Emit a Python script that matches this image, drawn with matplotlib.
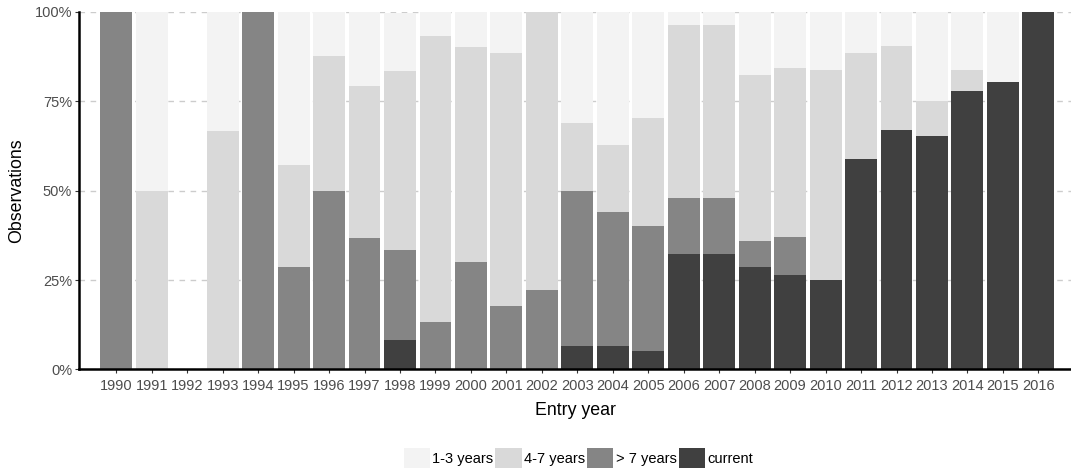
import numpy as np
import matplotlib.pyplot as plt
from matplotlib.patches import Patch
from matplotlib.ticker import PercentFormatter

plt.rcParams['font.family'] = ['Liberation Sans', 'DejaVu Sans']

years = [str(y) for y in range(1990, 2017)]

# share of observations per entry year (percent), stacked bottom to top
current = [0, 0, 0, 0, 0, 0, 0, 0, 8.3, 0, 0, 0, 0, 6.5, 6.5, 5.2, 32.2, 32.2,
           28.7, 26.3, 25.0, 58.9, 66.8, 65.2, 77.8, 80.3, 100]
over7 = [100, 0, 0, 0, 100, 28.6, 50, 36.8, 25.0, 13.3, 30, 17.8, 22.2, 43.5,
         37.4, 34.9, 15.7, 15.7, 7.3, 10.6, 0, 0, 0, 0, 0, 0, 0]
y4_7 = [0, 50, 0, 66.7, 0, 28.6, 37.5, 42.3, 50.0, 80.0, 60, 70.7, 77.8, 18.9,
        18.8, 30.2, 48.5, 48.5, 46.2, 47.4, 58.6, 29.6, 23.7, 9.8, 5.8, 0, 0]
y1_3 = [0, 50, 0, 33.3, 0, 42.8, 12.5, 20.9, 16.4, 6.7, 10, 11.5, 0, 31.1,
        37.3, 29.7, 3.6, 3.6, 17.8, 15.7, 16.4, 11.5, 9.5, 25.0, 16.4, 19.7, 0]

series = [("current", current, "#404040"),
          ("> 7 years", over7, "#858585"),
          ("4-7 years", y4_7, "#d9d9d9"),
          ("1-3 years", y1_3, "#f3f3f3")]

fig = plt.figure(figsize=(10.71, 4.72), dpi=100)
ax = fig.add_axes([0.0738, 0.2172, 1 - 0.0738, 0.758])

x = np.arange(len(years))
bottom = np.zeros(len(years))
for name, vals, col in series:
    vals = np.array(vals) / 100
    ax.bar(x, vals, bottom=bottom, width=0.9, color=col, linewidth=0, zorder=2)
    bottom += vals

ax.set_ylim(0, 1)
ax.set_xlim(-1.05, len(years) - 0.08)
ax.set_yticks([0, 0.25, 0.5, 0.75, 1.0])
ax.yaxis.set_major_formatter(PercentFormatter(1.0, decimals=0))
ax.set_xticks(x)
ax.set_xticklabels(years)

ax.grid(axis='y', color='#cccccc', linestyle=(0, (4, 4)), linewidth=1, zorder=0)
for side in ['top', 'right']:
    ax.spines[side].set_visible(False)
for side in ['left', 'bottom']:
    ax.spines[side].set_linewidth(1.8)
    ax.spines[side].set_color('black')

ax.tick_params(axis='both', labelsize=10.5, labelcolor='#4d4d4d', color='#333333',
               length=3, width=0.8, pad=2)
ax.tick_params(axis='x', pad=4)

ax.set_xlabel('Entry year', fontsize=12.8, color='black', labelpad=6)
ax.set_ylabel('Observations', fontsize=12.8, color='black', labelpad=7)

handles = [Patch(facecolor=c, edgecolor='none', label=n) for n, v, c in reversed(series)]
fig.legend(handles=handles, loc='center', bbox_to_anchor=(0.54, 0.03), ncol=4,
           frameon=False, fontsize=10.5, handlelength=1.8, handleheight=1.8,
           handletextpad=0.15, columnspacing=0.15, borderpad=0, borderaxespad=0)

fig.savefig('out.png', dpi=100)
